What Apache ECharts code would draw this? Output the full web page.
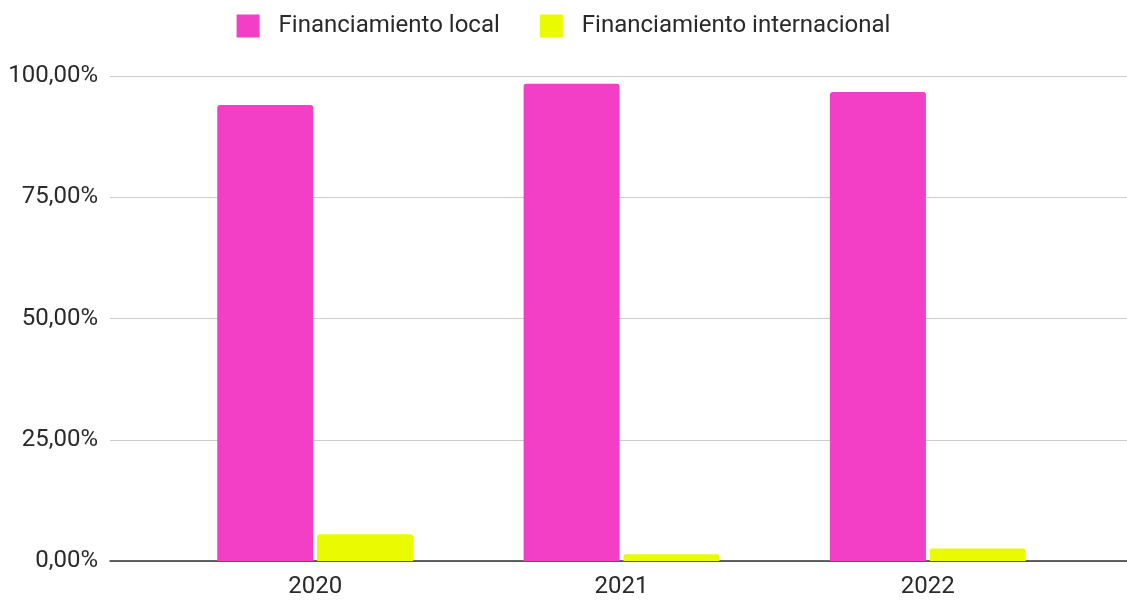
<!DOCTYPE html>
<html>
<head>
<meta charset="utf-8">
<style>
  html, body { margin: 0; padding: 0; background: #fff; }
  #chart { width: 1127px; height: 601px; }
</style>
<script src="https://cdn.jsdelivr.net/npm/echarts@6/dist/echarts.min.js"></script>
</head>
<body>
<div id="chart"></div>
<script>
// values (percent)
const years = ['2020', '2021', '2022'];
const localFunding = [94.0, 98.4, 96.7];
const intlFunding = [5.5, 1.4, 2.6];
const seriesNames = ['Financiamiento local', 'Financiamiento internacional'];
const yTicks = [0, 25, 50, 75, 100];

const pink = '#f23fc6';
const yellow = '#eafa00';

const chart = echarts.init(document.getElementById('chart'));

const fmt = v => v.toFixed(2).replace('.', ',') + '%';

chart.setOption({
  backgroundColor: '#fff',
  textStyle: { fontFamily: 'Roboto' },
  legend: {
    top: 9,
    left: 'center',
    itemWidth: 23,
    itemHeight: 23,
    itemGap: 40,
    icon: 'rect',
    itemStyle: { borderRadius: 3 },
    textStyle: { fontSize: 24, color: '#2a2a2a', padding: [0, 0, 0, 14] },
    data: seriesNames
  },
  grid: [
    // wide grid: gridlines, y labels and the baseline
    { left: 110, right: 0, top: 76, bottom: 40 },
    // narrower grid the bars sit in
    { left: 162, right: 46, top: 76, bottom: 40 }
  ],
  xAxis: [
    {
      gridIndex: 0, type: 'category', data: years,
      axisLine: { show: true, lineStyle: { color: '#333', width: 1.5 } },
      axisTick: { show: false }, axisLabel: { show: false }
    },
    {
      gridIndex: 1, type: 'category', data: years,
      axisLine: { show: false }, axisTick: { show: false },
      axisLabel: { fontSize: 24, color: '#2a2a2a', margin: 14 }
    }
  ],
  yAxis: [
    {
      gridIndex: 0, type: 'value', min: yTicks[0], max: yTicks[yTicks.length - 1], interval: 25,
      axisLine: { show: false }, axisTick: { show: false },
      splitLine: { lineStyle: { color: '#ccc', width: 1 } },
      axisLabel: { fontSize: 24, color: '#2a2a2a', margin: 12, verticalAlign: 'middle', padding: [3, 0, 0, 0], formatter: fmt }
    },
    {
      gridIndex: 1, type: 'value', min: yTicks[0], max: yTicks[yTicks.length - 1], interval: 25,
      show: false
    }
  ],
  series: [
    {
      name: seriesNames[0], type: 'bar', xAxisIndex: 1, yAxisIndex: 1,
      data: localFunding, barWidth: 96, barGap: '4%',
      itemStyle: { color: pink, borderRadius: [3, 3, 0, 0] }
    },
    {
      name: seriesNames[1], type: 'bar', xAxisIndex: 1, yAxisIndex: 1,
      data: intlFunding, barWidth: 96, barGap: '4%',
      itemStyle: { color: yellow, borderRadius: [3, 3, 0, 0] }
    }
  ]
});
</script>
</body>
</html>
